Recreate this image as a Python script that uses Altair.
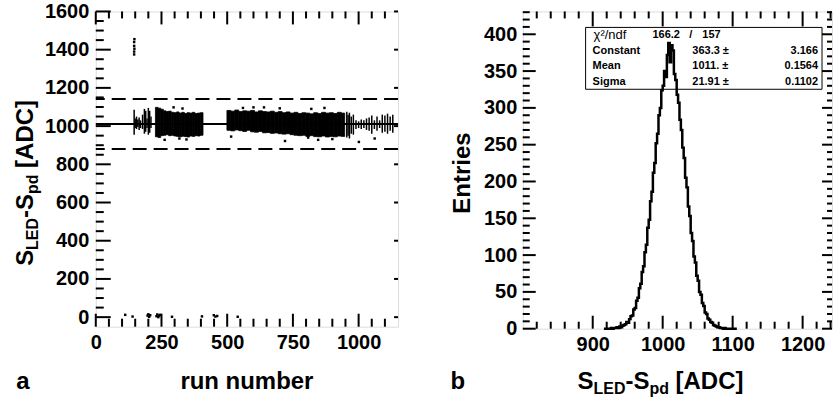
import altair as alt
import pandas as pd

FONT = "Liberation Sans"

# ---------------- Panel a : S_LED - S_pd versus run number ----------------
# dense parts of the band: run range and value range
band_start = [227, 237, 247, 257, 267, 277, 287, 297, 307, 317, 327, 337, 347, 357, 367, 377, 387, 397,
              499, 514, 529, 544, 559, 574, 589, 604, 619, 634, 649, 664, 679, 694, 709, 724, 739, 754,
              769, 784, 799, 814, 829, 844, 859, 874, 889, 904, 919, 934]
band_end = [237, 247, 257, 267, 277, 287, 297, 307, 317, 327, 337, 347, 357, 367, 377, 387, 397, 408,
            514, 529, 544, 559, 574, 589, 604, 619, 634, 649, 664, 679, 694, 709, 724, 739, 754, 769,
            784, 799, 814, 829, 844, 859, 874, 889, 904, 919, 934, 947]
band_lo = [944, 940, 950, 952, 955, 950, 952, 948, 946, 944, 947, 945, 943, 948, 946, 950, 948, 952,
           978, 975, 980, 976, 972, 978, 970, 968, 972, 965, 966, 962, 964, 960, 958, 960, 955, 952,
           950, 952, 946, 950, 945, 944, 948, 943, 946, 944, 948, 946]
band_hi = [1098, 1094, 1088, 1080, 1076, 1078, 1072, 1070, 1074, 1068, 1072, 1066, 1070, 1068, 1072, 1066, 1068, 1070,
           1082, 1078, 1084, 1076, 1080, 1078, 1082, 1074, 1080, 1076, 1074, 1078, 1072, 1076, 1070, 1074, 1068, 1072,
           1066, 1070, 1068, 1064, 1070, 1066, 1072, 1068, 1070, 1066, 1072, 1068]

# sparse runs drawn as vertical spreads
spike_run = [146, 150, 155, 160, 165, 170, 178, 185, 190, 195, 200, 205, 210,
             955, 960, 965, 972, 980, 990, 1000, 1010, 1020, 1030, 1040, 1050, 1060, 1070, 1080, 1090, 1100, 1110, 1120, 1130]
spike_lo = [955, 990, 985, 995, 980, 990, 985, 960, 970, 990, 955, 965, 990,
            940, 950, 935, 960, 955, 985, 990, 985, 990, 980, 975, 960, 985, 975, 990, 965, 970, 960, 975, 965]
spike_hi = [1085, 1040, 1050, 1035, 1045, 1030, 1060, 1090, 1080, 1040, 1095, 1080, 1050,
            1075, 1060, 1070, 1050, 1060, 1030, 1025, 1035, 1030, 1040, 1045, 1055, 1030, 1050, 1030, 1060, 1055, 1065, 1050, 1060]

# isolated entries
point_run = [146, 146, 147, 146, 146, 147,
             262, 318, 345, 296, 330, 560, 640, 700, 720, 808, 846, 900, 820, 870, 1001, 1061, 515, 600,
             112, 140, 197, 200, 203, 207, 231, 234, 238, 241, 245, 290, 404, 449, 455, 462, 540]
point_val = [1375, 1390, 1405, 1420, 1440, 1455,
             928, 935, 930, 1098, 1092, 1095, 1098, 1093, 922, 940, 928, 932, 1090, 1095, 917, 935, 945, 1098,
             12, 3, 8, 15, 2, 10, 5, 14, 0, 8, 12, 2, 4, 10, 3, 6, 2]

a_mean = [1011]
a_limits = [1142, 880]

a_x_labels = [0, 250, 500, 750, 1000]
a_y_labels = [0, 200, 400, 600, 800, 1000, 1200, 1400, 1600]

# ---------------- Panel b : histogram ----------------
bin_left = list(range(916, 1106, 2))
counts = [0, 0, 0, 0, 0, 1, 0, 1, 1, 2,
          1, 3, 2, 4, 5, 6, 9, 8, 13, 17,
          18, 26, 28, 38, 42, 55, 61, 77, 85, 104,
          114, 137, 148, 173, 186, 212, 225, 252, 265, 290,
          300, 324, 330, 350, 342,
          372, 388, 362, 385, 378, 346, 338, 318, 307, 284,
          270, 246, 232, 205, 192, 166, 153, 130, 119, 98,
          90, 72, 65, 50, 46, 35, 31, 22, 20, 14,
          12, 9, 8, 5, 4, 3, 2, 2, 1, 1,
          0, 1, 0, 0, 0, 0, 0, 0, 0, 0]

b_x_labels = [900, 1000, 1100, 1200]
b_y_labels = [0, 50, 100, 150, 200, 250, 300, 350, 400]

stat_names = ["Constant", "Mean", "Sigma"]
stat_values = ["363.3 \u00b1", "1011. \u00b1", "21.91 \u00b1"]
stat_errors = ["3.166", "0.1564", "0.1102"]

# ---------------- helpers ----------------
AW, AH = 303, 316
BW, BH = 310, 318
one = pd.DataFrame({"k": [0]})

xa = alt.Scale(domain=[0, 1150], nice=False, zero=False)
ya = alt.Scale(domain=[-50, 1600], nice=False, zero=False)
xb = alt.Scale(domain=[800, 1242], nice=False, zero=False)
yb = alt.Scale(domain=[0, 431], nice=False, zero=False)


def axis(values, pad):
    return alt.Axis(values=values, title=None, ticks=False, tickSize=0, domain=False, grid=False,
                    format="d",
                    labelFont=FONT, labelFontSize=20, labelFontWeight="bold", labelColor="black",
                    labelPadding=pad, labelFlush=False, labelOverlap=False)


ax_xa = axis(a_x_labels, 6)
ax_ya = axis(a_y_labels, 7)
ax_xb = axis(b_x_labels, 6)
ax_yb = axis(b_y_labels, 6)


def txt(s, x, y, size, angle=0, align="left", baseline="alphabetic", weight="bold"):
    return alt.Chart(one).mark_text(text=s, font=FONT, fontSize=size, fontWeight=weight, angle=angle,
                                    align=align, baseline=baseline, color="black").encode(
        x=alt.value(x), y=alt.value(y))


def xticks(vals, scale, ax, H, length, top=False):
    df = pd.DataFrame({"v": vals})
    y0, y1 = (0, length) if top else (H, H - length)
    return alt.Chart(df).mark_rule(color="black", strokeWidth=2).encode(
        x=alt.X("v:Q", scale=scale, axis=ax), y=alt.value(y0), y2=alt.value(y1))


def yticks(vals, scale, ax, W, length, right=False):
    df = pd.DataFrame({"v": vals})
    x0, x1 = (W, W - length) if right else (0, length)
    return alt.Chart(df).mark_rule(color="black", strokeWidth=2).encode(
        y=alt.Y("v:Q", scale=scale, axis=ax), x=alt.value(x0), x2=alt.value(x1))


# ---------------- panel a layers ----------------
bands = pd.DataFrame({"s": band_start, "e": band_end, "lo": band_lo, "hi": band_hi})
rects = alt.Chart(bands).mark_rect(color="black", stroke="black", strokeWidth=0.8).encode(
    x=alt.X("s:Q", scale=xa, axis=ax_xa),
    x2="e:Q",
    y=alt.Y("lo:Q", scale=ya, axis=ax_ya),
    y2="hi:Q")

spikes = alt.Chart(pd.DataFrame({"r": spike_run, "lo": spike_lo, "hi": spike_hi})).mark_rule(
    color="black", strokeWidth=1.5).encode(
    x=alt.X("r:Q", scale=xa, axis=ax_xa), y=alt.Y("lo:Q", scale=ya, axis=ax_ya), y2="hi:Q")

pts = alt.Chart(pd.DataFrame({"r": point_run, "v": point_val})).mark_square(
    color="black", size=6, opacity=1).encode(
    x=alt.X("r:Q", scale=xa, axis=ax_xa), y=alt.Y("v:Q", scale=ya, axis=ax_ya))

mean_line = alt.Chart(pd.DataFrame({"v": a_mean})).mark_rule(color="black", strokeWidth=2).encode(
    y=alt.Y("v:Q", scale=ya, axis=ax_ya))
lim_lines = alt.Chart(pd.DataFrame({"v": a_limits})).mark_rule(
    color="black", strokeWidth=2, strokeDash=[14, 7]).encode(y=alt.Y("v:Q", scale=ya, axis=ax_ya))

a_xmin = [v for v in range(50, 1150, 50) if v % 250 != 0]
a_ymin = [v for v in range(50, 1600, 50) if v % 200 != 0]

bound_a = alt.Chart(one).mark_rule(opacity=0).encode(
    x=alt.value(-95), x2=alt.value(-95), y=alt.value(-10), y2=alt.value(391))

# y title pieces (rotated)
ya_title = [
    txt("S", -63, 255, 24, angle=270),
    txt("LED", -58, 239, 16, angle=270),
    txt("-S", -63, 207, 24, angle=270),
    txt("pd", -58, 183, 16, angle=270),
    txt("[ADC]", -63, 156.8, 24, angle=270),
]

panel_a = alt.layer(
    rects, spikes, pts, mean_line, lim_lines,
    xticks(a_x_labels, xa, ax_xa, AH, 13), xticks(a_xmin, xa, ax_xa, AH, 8),
    xticks(a_x_labels, xa, ax_xa, AH, 13, top=True), xticks(a_xmin, xa, ax_xa, AH, 7, top=True),
    yticks(a_y_labels, ya, ax_ya, AW, 15), yticks(a_ymin, ya, ax_ya, AW, 8),
    yticks(a_y_labels, ya, ax_ya, AW, 4, right=True),
    txt("run number", 151.5, 378, 24, align="center"),
    txt("a", -73, 378, 24, align="center"),
    *ya_title,
    bound_a,
).properties(width=AW, height=AH)

# ---------------- panel b layers ----------------
hist_df = pd.DataFrame({"x": bin_left + [bin_left[-1] + 2], "n": counts + [0]})
hist = alt.Chart(hist_df).mark_line(interpolate="step-after", color="black", strokeWidth=2.5).encode(
    x=alt.X("x:Q", scale=xb, axis=ax_xb),
    y=alt.Y("n:Q", scale=yb, axis=ax_yb))

box = alt.Chart(one).mark_rect(fill="white", stroke="black", strokeWidth=1).encode(
    x=alt.value(63), x2=alt.value(300), y=alt.value(16), y2=alt.value(78))

row_y = [39.5, 55, 70.5]
stat_texts = [
    txt("\u03c7\u00b2/ndf", 71, 24, 13, baseline="middle", weight="normal"),
    txt("166.2", 130, 24, 11, baseline="middle"),
    txt("/", 167, 24, 11, baseline="middle"),
    txt("157", 180, 24, 11, baseline="middle"),
]
for i in range(3):
    stat_texts.append(txt(stat_names[i], 70, row_y[i], 11, baseline="middle"))
    stat_texts.append(txt(stat_values[i], 170, row_y[i], 11, baseline="middle"))
    stat_texts.append(txt(stat_errors[i], 296, row_y[i], 11, align="right", baseline="middle"))

b_xmin = [v for v in range(820, 1242, 20) if v % 100 != 0]
b_ymin = [v for v in range(10, 431, 10) if v % 50 != 0]

bound_b = alt.Chart(one).mark_rule(opacity=0).encode(
    x=alt.value(312), x2=alt.value(312), y=alt.value(-10), y2=alt.value(391))

xb_title = [
    txt("S", 55, 378, 24),
    txt("LED", 71, 383, 16),
    txt("-S", 103, 378, 24),
    txt("pd", 127, 383, 16),
    txt("[ADC]", 153.2, 378, 24),
]

panel_b = alt.layer(
    box, *stat_texts, hist,
    xticks(b_x_labels, xb, ax_xb, BH, 13), xticks(b_xmin, xb, ax_xb, BH, 7),
    xticks(b_x_labels, xb, ax_xb, BH, 15, top=True), xticks(b_xmin, xb, ax_xb, BH, 7, top=True),
    yticks(b_y_labels, yb, ax_yb, BW, 13), yticks(b_ymin, yb, ax_yb, BW, 7),
    yticks(b_y_labels, yb, ax_yb, BW, 10, right=True), yticks(b_ymin, yb, ax_yb, BW, 5, right=True),
    txt("Entries", -53, 162, 24, angle=270, align="center"),
    txt("b", -65, 378, 24, align="center"),
    *xb_title,
    bound_b,
).properties(width=BW, height=BH)

chart = alt.hconcat(panel_a, panel_b, spacing=125, bounds="flush").properties(
    padding=0, background="white"
).configure_view(stroke="black", strokeWidth=2).configure(font=FONT)

chart.save("out.html", embed_options={"renderer": "svg", "actions": False})
